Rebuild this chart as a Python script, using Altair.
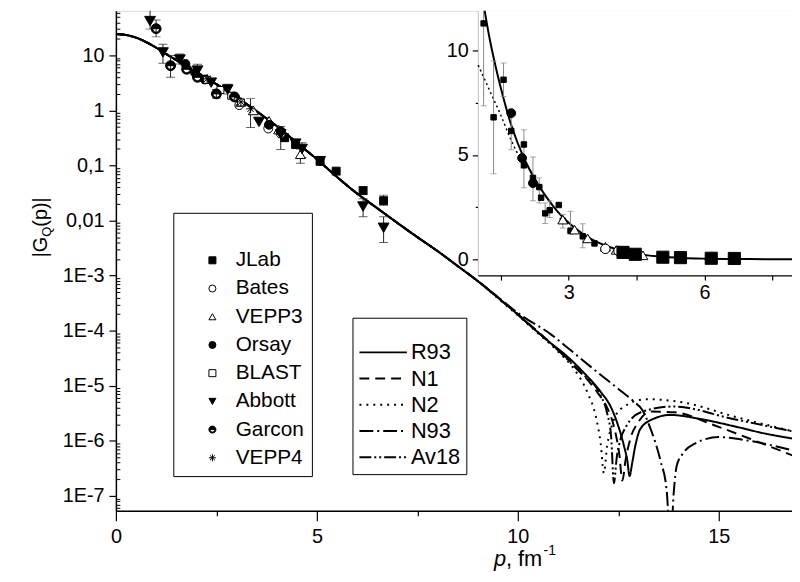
import altair as alt
import pandas as pd

FONT = "Liberation Sans"

# ---------------- experiments (main panel, log scale) ----------------
EXPERIMENTS = ["JLab", "Bates", "VEPP3", "Orsay", "BLAST", "Abbott", "Garcon", "VEPP4"]
GARCON_PATH = "M-1,0A1,1,0,0,1,1,0ZM1,0A1,1,0,0,1,-1,0L-0.7,0A0.7,0.7,0,0,0,0.7,0Z"
STAR_PATH = "M-1,0L1,0M0,-1L0,1M-0.7,-0.7L0.7,0.7M-0.7,0.7L0.7,-0.7"
SHAPES = ["square", "circle", "triangle-up", "circle", "square", "triangle-down", GARCON_PATH, STAR_PATH]
FILLS = ["black", "white", "white", "black", "white", "black", "black", "transparent"]
STROKES = ["black"] * 8
MARKER_SIZE = [64, 80, 100, 80, 50, 120, 100, 80]

JLAB_P = [4.2, 4.47, 5.08, 5.48, 6.15, 6.66]
JLAB_V = [0.32, 0.24, 0.119, 0.079, 0.035, 0.023]
JLAB_LO = [None, None, 0.11, None, 0.03, 0.019]
JLAB_HI = [None, None, 0.13, None, 0.041, 0.029]

BATES_P = [3.07, 3.79, 4.1]
BATES_V = [1.25, 0.47, 0.38]
BATES_LO = [None, None, None]
BATES_HI = [None, None, None]

VEPP3_P = [2.27, 3.11, 3.42, 3.81, 4.05, 4.59]
VEPP3_V = [3.75, 1.43, 1.0, 0.65, 0.45, 0.16]
VEPP3_LO = [None, None, None, None, None, 0.11]
VEPP3_HI = [None, None, None, None, None, 0.2]

ORSAY_P = [1.73, 1.97, 2.21, 3.81, 4.1]
ORSAY_V = [7.0, 4.85, 3.65, 0.55, 0.42]
ORSAY_LO = [None, None, None, None, None]
ORSAY_HI = [None, None, None, None, None]

BLAST_P = [2.27, 2.6, 2.87, 3.11]
BLAST_V = [3.6, 2.35, 1.85, 1.4]
BLAST_LO = [None, None, None, None]
BLAST_HI = [None, None, None, None]

ABBOTT_P = [0.85, 1.17, 1.59, 2.03, 2.37, 2.78, 3.56, 4.1, 4.47, 4.63, 5.08, 6.15, 6.66]
ABBOTT_V = [42, 11.3, 8.4, 5.3, 3.2, 2.4, 0.62, 0.37, 0.25, 0.2, 0.12, 0.018, 0.0074]
ABBOTT_LO = [30, 7.2, 7.0, 4.6, None, 2.0, None, 0.195, None, 0.14, None, 0.0117, 0.004]
ABBOTT_HI = [70, 16, 10.6, 6.9, None, 3.0, None, 0.51, None, 0.26, None, 0.025, 0.0117]

GARCON_P = [1.0, 1.36, 1.76, 2.03, 2.5, 2.95]
GARCON_V = [30.6, 6.5, 5.6, 4.0, 2.0, 1.76]
GARCON_LO = [21.7, 4.0, None, None, 1.66, None]
GARCON_HI = [44, 10, None, None, 2.4, None]

VEPP4_P = [2.27, 3.11, 3.35]
VEPP4_V = [3.75, 1.43, 1.07]
VEPP4_LO = [None, None, 0.49]
VEPP4_HI = [None, None, 1.64]

# ---------------- model curves ----------------
MODELS = ["R93", "N1", "N2", "N93", "Av18"]
DASHES = [[1, 0], [10, 6], [2, 5], [14, 4, 2, 4], [12, 3, 2, 3, 2, 3]]

BASE_P = [0.0, 0.25, 0.5, 0.75, 1.0, 1.25, 1.5, 1.75, 2.0, 2.25, 2.5, 2.75, 3.0, 3.5,
          4.0, 4.5, 5.0, 5.5, 6.0, 6.5, 7.0, 7.5, 8.0, 8.5, 9.0]
BASE_V = [24.5, 23.5, 21.0, 17.5, 13.8, 10.6, 8.2, 6.3, 4.9, 3.85, 3.0, 2.3, 1.75, 0.97,
          0.52, 0.26, 0.13, 0.062, 0.031, 0.0168, 0.0091, 0.005, 0.0028, 0.0015, 0.0008]

R93_TP = [9.5, 10.0, 10.42, 10.8, 11.23, 11.65, 12.07, 12.3, 12.46, 12.64, 12.72, 12.78,
          12.84, 12.92, 13.05, 13.37, 13.79, 14.53, 15.35, 16.16, 16.9]
R93_TV = [4.0e-4, 1.97e-4, 1.05e-4, 6.1e-5, 3.4e-5, 1.7e-5, 7.6e-6, 4.3e-6, 2.24e-6, 8.1e-7,
          4.5e-7, 2.3e-7, 3.8e-7, 8.0e-7, 1.66e-6, 2.5e-6, 2.95e-6, 2.5e-6, 1.86e-6, 1.35e-6, 1.08e-6]

N1_TP = [9.5, 10.0, 10.5, 11.0, 11.5, 12.0, 12.2, 12.4, 12.52, 12.6, 12.68, 12.8, 13.0,
         13.3, 13.9, 14.9, 15.76, 16.9]
N1_TV = [4.1e-4, 2.0e-4, 9.6e-5, 4.5e-5, 2.0e-5, 7.2e-6, 4.3e-6, 1.7e-6, 6e-7, 1.9e-7,
         4.5e-7, 1.1e-6, 2.2e-6, 3.4e-6, 3.3e-6, 1.9e-6, 1.1e-6, 5.2e-7]

N2_TP = [9.5, 10.0, 10.5, 11.0, 11.4, 11.73, 11.94, 12.06, 12.14, 12.22, 12.35, 12.56,
         13.2, 14.1, 15.35, 16.9]
N2_TV = [3.9e-4, 1.9e-4, 9.0e-5, 4.2e-5, 2.0e-5, 7.6e-6, 2.75e-6, 9e-7, 2.6e-7, 8e-7,
         2.0e-6, 3.8e-6, 5.7e-6, 5.0e-6, 2.8e-6, 1.45e-6]

N93_TP = [9.5, 10.0, 10.83, 11.3, 11.8, 12.4, 12.88, 13.1, 13.3, 13.55, 13.7, 13.8,
          13.88, 13.95, 14.1, 14.4, 15.0, 15.76, 16.9]
N93_TV = [4.1e-4, 2.1e-4, 8.5e-5, 4.5e-5, 2.25e-5, 1.0e-5, 5.2e-6, 3.6e-6, 1.66e-6, 4.3e-7,
          1.3e-7, 1.5e-8, 1.2e-7, 3.5e-7, 5.8e-7, 8.9e-7, 1.17e-6, 1.0e-6, 6.5e-7]

AV18_TP = [9.5, 10.0, 10.5, 11.0, 11.5, 12.07, 12.22, 12.32, 12.39, 12.46, 12.56, 12.7,
           13.1, 13.87, 15.35, 16.9]
AV18_TV = [4.0e-4, 1.95e-4, 9.4e-5, 4.4e-5, 1.9e-5, 6.5e-6, 3.2e-6, 1.2e-6, 1.7e-7, 5e-7,
           1.1e-6, 1.86e-6, 3.4e-6, 4.2e-6, 2.5e-6, 1.45e-6]

# ---------------- inset data (linear scale) ----------------
INSET_SQ_P = [1.12, 1.34, 1.56, 1.73, 2.01, 2.01, 2.21, 2.35, 2.39, 2.48, 2.58, 2.78, 2.87, 3.04, 3.31, 3.57]
INSET_SQ_V = [11.3, 6.8, 8.6, 6.15, 5.5, 4.5, 3.9, 3.46, 2.95, 2.2, 2.35, 2.6, 1.85, 1.37, 1.1, 0.76]
INSET_SQ_LO = [7.35, 4.1, 7.8, 5.25, 3.43, None, 2.8, 2.7, None, 1.71, 2.0, None, 1.5, 1.2, 0.55, None]
INSET_SQ_HI = [12.5, 9.5, 9.4, 6.9, 6.2, None, 4.9, 3.9, None, 2.7, 2.8, None, 2.15, 2.3, 1.7, None]

INSET_ORSAY_P = [1.73, 1.97, 2.21, 3.81, 4.1]
INSET_ORSAY_V = [7.0, 4.85, 3.65, 0.5, 0.38]
INSET_VEPP3_P = [2.87, 3.13, 3.42, 3.81, 4.05, 4.64]
INSET_VEPP3_V = [1.9, 1.42, 1.0, 0.6, 0.45, 0.19]
INSET_BATES_P = [3.81, 4.1]
INSET_BATES_V = [0.5, 0.4]
INSET_JLAB_P = [4.2, 4.47, 5.08, 5.47, 6.15, 6.66]
INSET_JLAB_V = [0.33, 0.24, 0.1, 0.08, 0.05, 0.04]

INSET_DOT_P = [1.0, 1.25, 1.5, 1.75, 1.9, 2.0]
INSET_DOT_V = [9.3, 8.1, 6.9, 5.6, 5.0, 4.9]

# ---------------- axes / layout constants ----------------
PLOT_W, PLOT_H = 683, 505
X_DOMAIN = [0, 16.82]
Y_DOMAIN = [5.37e-8, 64.4]
X_TICKS = [0, 2.5, 5, 7.5, 10, 12.5, 15]
Y_EXPONENTS = [-7, -6, -5, -4, -3, -2, -1, 0, 1]
Y_LABELS = ["1E-7", "1E-6", "1E-5", "1E-4", "1E-3", "0,01", "0,1", "1", "10"]
INSET_X_DOMAIN = [1, 8]
INSET_X_RANGE = [366, 686]
INSET_Y_DOMAIN = [-0.76, 11.9]
INSET_Y_RANGE = [267, 0]
INSET_X_TICKS = [1.5, 3, 4.5, 6, 7.5]
INSET_Y_TICKS = [0, 2.5, 5, 7.5, 10]

# ---------------- build tables ----------------
main_sets = {
    "JLab": (JLAB_P, JLAB_V, JLAB_LO, JLAB_HI),
    "Bates": (BATES_P, BATES_V, BATES_LO, BATES_HI),
    "VEPP3": (VEPP3_P, VEPP3_V, VEPP3_LO, VEPP3_HI),
    "Orsay": (ORSAY_P, ORSAY_V, ORSAY_LO, ORSAY_HI),
    "BLAST": (BLAST_P, BLAST_V, BLAST_LO, BLAST_HI),
    "Abbott": (ABBOTT_P, ABBOTT_V, ABBOTT_LO, ABBOTT_HI),
    "Garcon": (GARCON_P, GARCON_V, GARCON_LO, GARCON_HI),
    "VEPP4": (VEPP4_P, VEPP4_V, VEPP4_LO, VEPP4_HI),
}
pts, errs = [], []
for i, exp in enumerate(EXPERIMENTS):
    P, V, LO, HI = main_sets[exp]
    for p, v, lo, hi in zip(P, V, LO, HI):
        pts.append({"p": p, "v": v, "exp": exp, "sz": MARKER_SIZE[i]})
        if lo is not None:
            errs.append({"p": p, "lo": lo, "hi": hi})
pts_df = pd.DataFrame(pts)
err_df = pd.DataFrame(errs)

tails = {"R93": (R93_TP, R93_TV), "N1": (N1_TP, N1_TV), "N2": (N2_TP, N2_TV),
         "N93": (N93_TP, N93_TV), "Av18": (AV18_TP, AV18_TV)}
crows = []
for m in MODELS:
    tp, tv = tails[m]
    for p, v in zip(BASE_P + tp, BASE_V + tv):
        crows.append({"p": p, "v": v, "model": m})
curves_df = pd.DataFrame(crows)

r93_inset = curves_df[(curves_df.model == "R93") & (curves_df.p >= INSET_X_DOMAIN[0]) & (curves_df.p <= INSET_X_DOMAIN[1])]
dot_df = pd.DataFrame({"p": INSET_DOT_P, "v": INSET_DOT_V})

ierr = [{"p": p, "lo": lo, "hi": hi} for p, lo, hi in zip(INSET_SQ_P, INSET_SQ_LO, INSET_SQ_HI) if lo is not None]
ierr_df = pd.DataFrame(ierr)

# ---------------- scales & axes ----------------
xs = alt.Scale(domain=X_DOMAIN, nice=False, zero=False)
ys = alt.Scale(type="log", domain=Y_DOMAIN, nice=False)

LOG_E = "(log(datum.value)/LN10)"
lab = "''"
for e, l in reversed(list(zip(Y_EXPONENTS, Y_LABELS))):
    lab = f"(round({LOG_E}) == {e} ? '{l}' : {lab})"
Y_LABEL_EXPR = lab
Y_MAJOR = [10.0 ** e for e in Y_EXPONENTS]
Y_MINOR = [k * 10.0 ** d for d in range(-8, 2) for k in range(2, 10)
           if Y_DOMAIN[0] <= k * 10.0 ** d <= Y_DOMAIN[1]]

axis_common = dict(grid=False, title=None, labelFont=FONT, labelFontSize=20, labelColor="black",
                   domainColor="black", tickColor="black", domainWidth=1.5, tickWidth=1.2,
                   labelOverlap=False, labelFlush=False)

x_axis = alt.Axis(orient="bottom", values=X_TICKS,
                  labelExpr="datum.value % 5 == 0 ? format(datum.value, 'd') : ''",
                  tickSize={"condition": {"test": "datum.value % 5 == 0", "value": 10}, "value": 5},
                  labelPadding=6, **axis_common)
y_axis = alt.Axis(orient="left", values=Y_MAJOR, labelExpr=Y_LABEL_EXPR, tickSize=7,
                  labelPadding=5, **axis_common)
# minor ticks drawn inward (an axis on the right side, shifted onto the left edge)
y_minor_axis = alt.Axis(orient="right", offset=-PLOT_W, values=Y_MINOR, labels=False, domain=False,
                        tickSize=4, tickColor="black", tickWidth=1, grid=False, title=None)

X = alt.X("p:Q", scale=xs, axis=x_axis)

shape_legend = alt.Legend(orient="none", legendX=58, legendY=204, title=" ", titleFontSize=16,
                          titlePadding=14, padding=8, strokeColor="black", fillColor="white",
                          labelFont=FONT, labelFontSize=21, labelColor="black", symbolSize=50,
                          symbolStrokeColor="black", symbolStrokeWidth=1, symbolOpacity=1,
                          symbolOffset=21, labelOffset=13, rowPadding=7.5, clipHeight=20)

line_legend = alt.Legend(orient="none", legendX=239, legendY=310, title=" ",
                         titleFontSize=9, titlePadding=10, padding=6,
                         strokeColor="black", fillColor="white",
                         labelFont=FONT, labelFontSize=22, labelColor="black",
                         symbolType="stroke", symbolSize=2300,
                         symbolStrokeWidth=2, symbolStrokeColor="black",
                         symbolOffset=0, labelOffset=3, rowPadding=4.5,
                         clipHeight=20)

lines = alt.Chart(curves_df).mark_line(color="black", strokeWidth=2, clip=True, interpolate="monotone").encode(
    x=X,
    y=alt.Y("v:Q", scale=ys, axis=y_axis),
    strokeDash=alt.StrokeDash("model:N", scale=alt.Scale(domain=MODELS, range=DASHES), legend=line_legend),
)

err_rules = alt.Chart(err_df).mark_rule(color="#222", strokeWidth=1, clip=True).encode(
    x=X, y=alt.Y("lo:Q", scale=ys, axis=y_minor_axis), y2="hi:Q")
err_lo = alt.Chart(err_df).mark_tick(color="#222", orient="horizontal", size=9, thickness=1, clip=True).encode(
    x=X, y=alt.Y("lo:Q", scale=ys, axis=None))
err_hi = alt.Chart(err_df).mark_tick(color="#222", orient="horizontal", size=9, thickness=1, clip=True).encode(
    x=X, y=alt.Y("hi:Q", scale=ys, axis=None))

points = alt.Chart(pts_df).mark_point(strokeWidth=1, opacity=1, fillOpacity=1, clip=True).encode(
    x=X,
    y=alt.Y("v:Q", scale=ys, axis=None),
    shape=alt.Shape("exp:N", scale=alt.Scale(domain=EXPERIMENTS, range=SHAPES), legend=shape_legend),
    fill=alt.Fill("exp:N", scale=alt.Scale(domain=EXPERIMENTS, range=FILLS), legend=shape_legend),
    stroke=alt.Stroke("exp:N", scale=alt.Scale(domain=EXPERIMENTS, range=STROKES), legend=shape_legend),
    size=alt.Size("sz:Q", scale=None, legend=None),
)

one = pd.DataFrame({"k": [0]})
def txt(s, px, py, size, angle=0, style="normal"):
    return alt.Chart(one).mark_text(text=s, font=FONT, fontSize=size, angle=angle, align="left",
                                    baseline="alphabetic", fontStyle=style, color="black").encode(
        x=alt.value(px - 117), y=alt.value(py - 8))

titles = [
    txt("|G", 47, 257, 20, angle=270),
    txt("Q", 51, 236.2, 13, angle=270),
    txt("(p)|", 47, 226, 20, angle=270),
    txt("p", 499, 569, 22, style="italic"),
    txt(", fm", 511, 569, 22),
    txt("-1", 549, 558, 14),
]

main = alt.layer(lines, err_rules, err_lo, err_hi, points, *titles)

# ---------------- inset ----------------
ixs = alt.Scale(domain=INSET_X_DOMAIN, range=INSET_X_RANGE, nice=False, zero=False)
iys = alt.Scale(domain=INSET_Y_DOMAIN, range=INSET_Y_RANGE, nice=False, zero=False)
ix_axis = alt.Axis(orient="bottom", offset=-(PLOT_H - INSET_Y_RANGE[0]), values=INSET_X_TICKS,
                   labelExpr="datum.value % 3 == 0 ? format(datum.value, 'd') : ''",
                   tickSize=5, labelPadding=3, **axis_common)
iy_axis = alt.Axis(orient="left", offset=-INSET_X_RANGE[0], values=INSET_Y_TICKS,
                   labelExpr="datum.value % 5 == 0 ? format(datum.value, 'd') : ''",
                   tickSize={"condition": {"test": "datum.value % 5 == 0", "value": 6}, "value": 3},
                   labelPadding=4, **axis_common)
IX = alt.X("p:Q", scale=ixs, axis=ix_axis)

inset_bg = alt.Chart(one).mark_rect(fill="white").encode(
    x=alt.X(datum=INSET_X_DOMAIN[0], type="quantitative", scale=ixs, axis=ix_axis),
    x2=alt.X2(datum=INSET_X_DOMAIN[1] + 0.2),
    y=alt.Y(datum=INSET_Y_DOMAIN[0], type="quantitative", scale=iys, axis=iy_axis),
    y2=alt.Y2(datum=INSET_Y_DOMAIN[1]),
)
inset_line = alt.Chart(r93_inset).mark_line(color="black", strokeWidth=2, clip=True, interpolate="monotone").encode(
    x=IX, y=alt.Y("v:Q", scale=iys, axis=iy_axis))
inset_dot = alt.Chart(dot_df).mark_line(color="black", strokeWidth=1.5, strokeDash=[2, 3], clip=True,
                                        interpolate="monotone").encode(
    x=IX, y=alt.Y("v:Q", scale=iys, axis=iy_axis))
inset_err = alt.Chart(ierr_df).mark_rule(color="#888", strokeWidth=1, clip=True).encode(
    x=IX, y=alt.Y("lo:Q", scale=iys, axis=iy_axis), y2="hi:Q")
inset_err_lo = alt.Chart(ierr_df).mark_tick(color="#888", orient="horizontal", size=6, thickness=1, clip=True).encode(
    x=IX, y=alt.Y("lo:Q", scale=iys, axis=iy_axis))
inset_err_hi = alt.Chart(ierr_df).mark_tick(color="#888", orient="horizontal", size=6, thickness=1, clip=True).encode(
    x=IX, y=alt.Y("hi:Q", scale=iys, axis=iy_axis))

inset_sets = [
    (INSET_SQ_P, INSET_SQ_V, "square", "black", 30),
    (INSET_ORSAY_P, INSET_ORSAY_V, "circle", "black", 80),
    (INSET_VEPP3_P, INSET_VEPP3_V, "triangle-up", "white", 100),
    (INSET_BATES_P, INSET_BATES_V, "circle", "white", 90),
    (INSET_JLAB_P, INSET_JLAB_V, "square", "black", 150),
]
inset_pts = []
for P, V, shp, fill, sz in inset_sets:
    inset_pts.append(
        alt.Chart(pd.DataFrame({"p": P, "v": V})).mark_point(
            shape=shp, fill=fill, stroke="black", strokeWidth=1, size=sz, opacity=1, fillOpacity=1, clip=True
        ).encode(x=IX, y=alt.Y("v:Q", scale=iys, axis=iy_axis))
    )

inset = alt.layer(inset_bg, inset_line, inset_dot, inset_err, inset_err_lo, inset_err_hi, *inset_pts)

chart = alt.layer(main, inset).resolve_scale(x="independent", y="independent").properties(
    width=PLOT_W, height=PLOT_H,
    padding={"left": 109, "top": 0, "right": 0, "bottom": 61},
    autosize=alt.AutoSizeParams(type="none"),
).configure_view(stroke=None).configure(font=FONT)

chart.save("out.html", embed_options={"renderer": "svg", "actions": False})
